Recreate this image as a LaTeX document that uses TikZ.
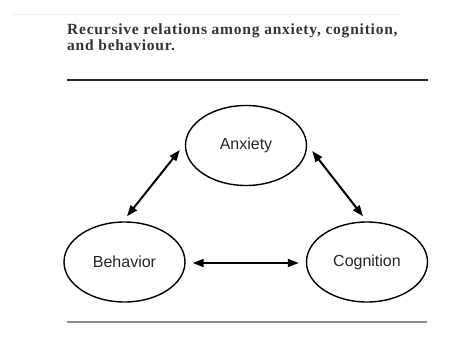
\documentclass[tikz,border=0pt]{standalone}
\usepackage{fontspec}
\setmainfont{Liberation Serif}
\newfontfamily\labelfont{Liberation Sans}
\usetikzlibrary{arrows.meta,shapes.geometric}
\tikzset{
  factor/.style={draw, ellipse, line width=1.4pt, inner sep=0pt,
    minimum width=121pt, minimum height=80pt,
    font=\labelfont\fontsize{16}{18}\selectfont, text=black!85},
  rel/.style={{Triangle[length=11pt,width=8pt]}-{Triangle[length=11pt,width=8pt]}, line width=2pt},
  caption/.style={anchor=base west, inner sep=0pt, text=black!80,
    font=\bfseries\fontsize{15.5}{16}\selectfont\addfontfeature{LetterSpace=5}},
  rule/.style={line width=1.3pt}
}
\begin{document}
\begin{tikzpicture}[x=1pt,y=-1pt]
      \useasboundingbox (0,0) rectangle (456,354);
      \draw[gray!12, line width=1pt] (13,14) -- (400,14);
      \node[caption] (cap1) at (67,34) {Recursive relations among anxiety, cognition,};
      \node[caption] (cap2) at (67,50) {and behaviour.};
      \draw[rule, black!85] (67,80) -- (428,80);
      \draw[rule, black!45, line width=1.6pt] (67,322) -- (427,322);
      \draw
        (246,145.5) node[factor] (anx){Anxiety}
        (124.5,262) node[factor] (beh){Behavior}
        (367,262) node[factor] (cog){Cognition};
      \begin{scope}[rel]
        \draw ([shift={(2.5,-5)}]beh.north) to ([shift={(-5,4.5)}]anx.west);
        \draw ([shift={(5,5.5)}]anx.east) to ([shift={(-4,-5)}]cog.north);
        \draw ([shift={(7,1)}]beh.east) to ([shift={(-7,1)}]cog.west);
      \end{scope}
    \end{tikzpicture}
\end{document}
